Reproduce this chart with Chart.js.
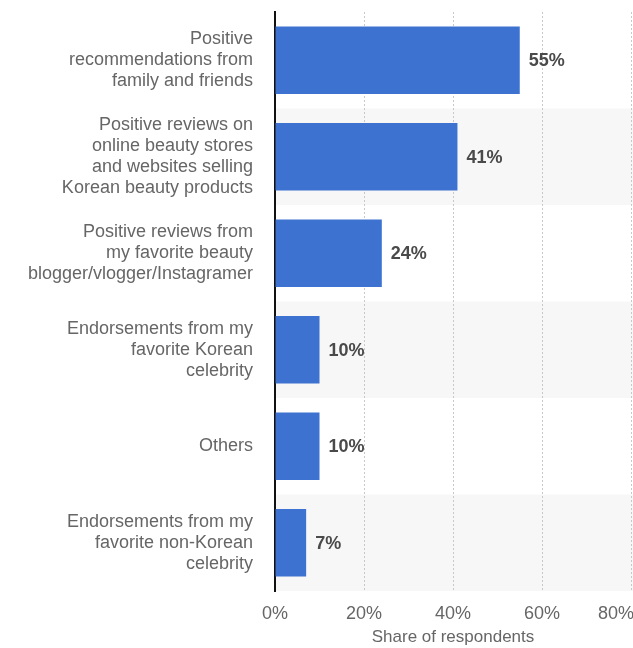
<!DOCTYPE html>
<html>
<head>
<meta charset="utf-8">
<script src="https://cdn.jsdelivr.net/npm/chart.js"></script>
<style>
  html, body { margin: 0; padding: 0; background: #fff; }
  #wrap { width: 633px; height: 648px; position: relative; }
</style>
</head>
<body>
<div id="wrap"><canvas id="chart"></canvas></div>
<script>
// categories (multi-line labels) and shares in percent
const categories = [
    ["Positive", "recommendations from", "family and friends"],
    ["Positive reviews on", "online beauty stores", "and websites selling", "Korean beauty products"],
    ["Positive reviews from", "my favorite beauty", "blogger/vlogger/Instagramer"],
    ["Endorsements from my", "favorite Korean", "celebrity"],
    ["Others"],
    ["Endorsements from my", "favorite non-Korean", "celebrity"]
];
const shares = [55, 41, 24, 10, 10, 7];
const xTicks = [0, 20, 40, 60, 80];

const FONT = "'Liberation Sans', Arial, Helvetica, sans-serif";

// grey background on every second row
const stripes = {
    id: "stripes",
    beforeDraw(chart) {
        const { ctx, chartArea, scales } = chart;
        const y = scales.y;
        const step = (chartArea.bottom - chartArea.top) / categories.length;
        ctx.save();
        ctx.fillStyle = "#f7f7f7";
        categories.forEach((c, i) => {
            if (i % 2 === 1) {
                const cy = y.getPixelForValue(i);
                ctx.fillRect(chartArea.left, cy - step / 2, chart.width - chartArea.left, step);
            }
        });
        ctx.restore();
    }
};

// value labels at the end of each bar
const valueLabels = {
    id: "valueLabels",
    afterDatasetsDraw(chart) {
        const { ctx } = chart;
        const meta = chart.getDatasetMeta(0);
        ctx.save();
        ctx.font = "bold 18px " + FONT;
        ctx.fillStyle = "#4a4a4a";
        ctx.textAlign = "left";
        ctx.textBaseline = "middle";
        meta.data.forEach((bar, i) => {
            ctx.fillText(shares[i] + "%", bar.x + 9, bar.y + 1);
        });
        ctx.restore();
    }
};

new Chart(document.getElementById("chart"), {
    type: "bar",
    data: {
        labels: categories,
        datasets: [{
            data: shares,
            backgroundColor: "#3d72d0",
            borderWidth: 0,
            categoryPercentage: 1,
            barPercentage: 0.7
        }]
    },
    options: {
        indexAxis: "y",
        responsive: true,
        maintainAspectRatio: false,
        animation: false,
        layout: { padding: { top: 12, left: 0, right: 0, bottom: 0 } },
        plugins: {
            legend: { display: false },
            tooltip: { enabled: false }
        },
        scales: {
            x: {
                min: 0,
                max: 80,
                afterBuildTicks(scale) {
                    scale.ticks = xTicks.map(v => ({ value: v }));
                },
                afterFit(scale) {
                    scale.height = 57;
                    scale.paddingLeft = 0;
                    scale.paddingRight = 2;
                },
                grid: {
                    color: "#c8c8c8",
                    lineWidth: 1,
                    drawTicks: false
                },
                border: { display: false, dash: [2, 2] },
                ticks: {
                    padding: 12,
                    color: "#666",
                    font: { family: FONT, size: 18 },
                    // keep the last label inside the canvas
                    callback: v => v === 80 ? "80%\u2007\u2007\u2007" : v + "%"
                },
                title: {
                    display: true,
                    text: "Share of respondents",
                    color: "#666",
                    font: { family: FONT, size: 17 },
                    padding: { top: 0, bottom: 0 }
                }
            },
            y: {
                afterFit(scale) {
                    scale.width = 275;
                    scale.paddingTop = 0;
                    scale.paddingBottom = 0;
                },
                grid: { display: false, drawTicks: false },
                border: { display: true, color: "#111", width: 2 },
                ticks: {
                    padding: 22,
                    color: "#666",
                    font: { family: FONT, size: 18, lineHeight: 1.17 }
                }
            }
        }
    },
    plugins: [stripes, valueLabels]
});
</script>
</body>
</html>
